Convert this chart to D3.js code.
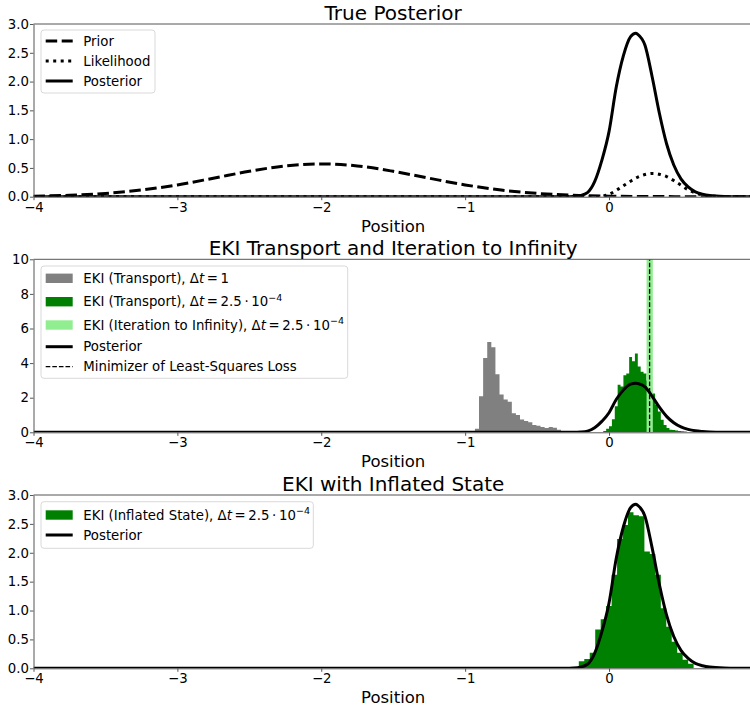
<!DOCTYPE html>
<html><head><meta charset="utf-8">
<script src="https://cdn.jsdelivr.net/npm/d3@7"></script>
<style>
body{margin:0;background:#fff}
svg{display:block;font-family:"DejaVu Sans",sans-serif}
</style>
</head><body><svg id="c" width="750" height="709"></svg>
<script>
// ---------------- data ----------------
const xTicks = [-4, -3, -2, -1, 0, 1];
const yTicksDensity = [0, 0.5, 1, 1.5, 2, 2.5, 3];
const yTicksEKI = [0, 2, 4, 6, 8, 10];

// Prior (dashed)
const priorX = [-4, -3.75, -3.5, -3.25, -3, -2.75, -2.5, -2.25, -2, -1.75, -1.5, -1.25, -1, -0.75, -0.5, -0.25, 0, 0.25, 0.5, 0.75, 1];
const priorY = [0.0096, 0.025, 0.057, 0.116, 0.205, 0.321, 0.441, 0.535, 0.570, 0.535, 0.441, 0.321, 0.205, 0.116, 0.057, 0.025, 0.0096, 0.0033, 0.001, 0.0003, 0.0001];

// Likelihood (dotted)
const likeX = [-4, -0.15, -0.1, -0.05, 0, 0.05, 0.1, 0.15, 0.2, 0.25, 0.3, 0.35, 0.4, 0.45, 0.5, 0.55, 0.6, 0.65, 0.7, 0.8, 0.9, 1];
const likeY = [0, 0, 0.002, 0.01, 0.04, 0.11, 0.19, 0.27, 0.34, 0.385, 0.405, 0.39, 0.35, 0.28, 0.2, 0.12, 0.065, 0.03, 0.012, 0.002, 0, 0];

// Posterior (solid)
const postX = [-4, -1, -0.5, -0.3, -0.25, -0.2, -0.15, -0.1, -0.05, 0, 0.05, 0.1, 0.15, 0.186, 0.2, 0.25, 0.3, 0.35, 0.4, 0.45, 0.5, 0.55, 0.6, 0.65, 0.7, 0.8, 0.9, 1];
const postY = [0, 0, 0, 0.001, 0.005, 0.02, 0.07, 0.26, 0.63, 1.13, 1.9, 2.45, 2.78, 2.84, 2.82, 2.63, 2.08, 1.45, 0.92, 0.55, 0.31, 0.17, 0.085, 0.045, 0.022, 0.005, 0.001, 0];

// EKI (Transport), dt = 1  (gray histogram)
const grayStart = -0.932, grayWidth = 0.0285;
const grayHeights = [0.2, 2.08, 4.3, 5.22, 4.92, 3.35, 2.18, 1.9, 1.76, 1.1, 1.0, 0.74, 0.66, 0.58, 0.42, 0.38, 0.3, 0.25, 0.3, 0.26, 0.15, 0.08];

// EKI (Transport), dt = 2.5e-4  (green histogram)
const greenStart = -0.04, greenWidth = 0.02;
const greenHeights = [0.08, 0.2, 0.35, 0.75, 1.5, 2.75, 2.65, 3.3, 3.4, 4.35, 4.1, 4.55, 3.8, 3.5, 3.4, 3.0, 2.6, 2.25, 1.6, 1.2, 0.72, 0.42, 0.25, 0.15, 0.13, 0.1, 0.08, 0.06, 0.04, 0.02];

// EKI (Iteration to Infinity), dt = 2.5e-4  (light green histogram)
const lightStart = 0.261, lightWidth = 0.0145;
const lightHeights = [40, 60, 30];

// Minimizer of least-squares loss
const minimizer = 0.282;

// EKI (Inflated State), dt = 2.5e-4
const inflStart = -0.21, inflWidth = 0.038;
const inflHeights = [0.12, 0.16, 0.27, 0.67, 0.85, 1.08, 1.62, 2.24, 2.48, 2.7, 2.65, 2.63, 2.02, 1.98, 1.62, 1.04, 0.72, 0.46, 0.27, 0.15, 0.08];

const titles = ["True Posterior", "EKI Transport and Iteration to Infinity", "EKI with Inflated State"];
const xLabel = "Position";

// ---------------- drawing ----------------
const svg = d3.select("#c");
const FONT = 13.3;
const x = d3.scaleLinear().domain([-4, 1]).range([33.5, 752.9]);

const panels = [
  {top: 24, bottom: 196.7, ymax: 3, ticks: yTicksDensity, fmt: d3.format(".1f")},
  {top: 259.3, bottom: 432.3, ymax: 10, ticks: yTicksEKI, fmt: d3.format("d")},
  {top: 495, bottom: 668.3, ymax: 3, ticks: yTicksDensity, fmt: d3.format(".1f")}
];

panels.forEach((p, i) => {
  p.y = d3.scaleLinear().domain([0, p.ymax]).range([p.bottom, p.top]);
  p.g = svg.append("g");
  const cid = "clip" + i;
  svg.append("clipPath").attr("id", cid).append("rect")
    .attr("x", x.range()[0]).attr("y", p.top)
    .attr("width", x.range()[1] - x.range()[0]).attr("height", p.bottom - p.top);
  p.plot = p.g.append("g").attr("clip-path", `url(#${cid})`);
});

const line = (ys) => d3.line().x(d => x(d[0])).y(d => ys(d[1])).curve(d3.curveMonotoneX);
const zip = (a, b) => a.map((v, i) => [v, b[i]]);

function hist(p, start, width, heights, color) {
  const pts = heights.map((h, i) => [start + i * width, h]);
  pts.push([start + heights.length * width, heights[heights.length - 1]]);
  const area = d3.area().x(d => x(d[0])).y0(p.bottom).y1(d => p.y(d[1])).curve(d3.curveStepAfter);
  p.plot.append("path").attr("d", area(pts)).attr("fill", color);
}

// Panel 1
{
  const p = panels[0];
  p.plot.append("path").attr("d", line(p.y)(zip(priorX, priorY)))
    .attr("fill", "none").attr("stroke", "#000").attr("stroke-width", 3).attr("stroke-dasharray", "11.5,4.5");
  p.plot.append("path").attr("d", line(p.y)(zip(likeX, likeY)))
    .attr("fill", "none").attr("stroke", "#000").attr("stroke-width", 3).attr("stroke-dasharray", "3,4.5");
  p.plot.append("path").attr("d", line(p.y)(zip(postX, postY)))
    .attr("fill", "none").attr("stroke", "#000").attr("stroke-width", 3);
}
// Panel 2
{
  const p = panels[1];
  hist(p, grayStart, grayWidth, grayHeights, "gray");
  hist(p, greenStart, greenWidth, greenHeights, "green");
  hist(p, lightStart, lightWidth, lightHeights, "lightgreen");
  p.plot.append("path").attr("d", line(p.y)(zip(postX, postY)))
    .attr("fill", "none").attr("stroke", "#000").attr("stroke-width", 3);
  p.plot.append("line").attr("x1", x(minimizer)).attr("x2", x(minimizer))
    .attr("y1", p.bottom).attr("y2", p.top)
    .attr("stroke", "#000").attr("stroke-width", 1.3).attr("stroke-dasharray", "4.6,2");
}
// Panel 3
{
  const p = panels[2];
  hist(p, inflStart, inflWidth, inflHeights, "green");
  p.plot.append("path").attr("d", line(p.y)(zip(postX, postY)))
    .attr("fill", "none").attr("stroke", "#000").attr("stroke-width", 3);
}

// axes, spines, titles
const SPINE = "#555";
panels.forEach((p, i) => {
  const gx = p.g.append("g").attr("transform", `translate(0,${p.bottom})`)
    .call(d3.axisBottom(x).tickValues(xTicks).tickFormat(d3.format("d")).tickSize(3.5).tickPadding(2).tickSizeOuter(0));
  const gy = p.g.append("g").attr("transform", `translate(${x.range()[0]},0)`)
    .call(d3.axisLeft(p.y).tickValues(p.ticks).tickFormat(p.fmt).tickSize(3.5).tickPadding(1).tickSizeOuter(0));
  [gx, gy].forEach(g => {
    g.selectAll("text").attr("font-size", FONT).attr("font-family", "DejaVu Sans").attr("fill", "#000");
    g.selectAll("line").attr("stroke", SPINE);
    g.select(".domain").attr("stroke", SPINE);
  });
  p.g.append("line").attr("x1", x.range()[0]).attr("x2", x.range()[1])
    .attr("y1", p.top).attr("y2", p.top).attr("stroke", SPINE);
  p.g.append("line").attr("x1", x.range()[1]).attr("x2", x.range()[1])
    .attr("y1", p.top).attr("y2", p.bottom).attr("stroke", SPINE);
  p.g.append("text").attr("x", (x.range()[0] + x.range()[1]) / 2).attr("y", p.top - 4.5)
    .attr("text-anchor", "middle").attr("font-size", 20).text(titles[i]);
  p.g.append("text").attr("x", (x.range()[0] + x.range()[1]) / 2).attr("y", p.bottom + 35)
    .attr("text-anchor", "middle").attr("font-size", 16.5).text(xLabel);
});

// legends
function richText(sel, parts) {
  let prevSup = false;
  parts.forEach(pt => {
    const t = sel.append("tspan").text(pt.t);
    if (pt.s === "it") t.attr("font-style", "italic");
    if (pt.s === "sup") { t.attr("font-size", 9.5).attr("dy", -5.5); prevSup = true; }
    else if (prevSup) { t.attr("dy", 5.5); prevSup = false; }
  });
}
const TS = "\u2009";
const dtEq = (val) => val === "1"
  ? [{t: "Δ"}, {t: "t", s: "it"}, {t: TS + "=" + TS + "1"}]
  : [{t: "Δ"}, {t: "t", s: "it"}, {t: TS + "=" + TS + "2.5" + TS + "·" + TS + "10"}, {t: "−4", s: "sup"}];

const legends = [
  {panel: 0, box: [41, 30, 155, 93], rows: [
    {y: 41, kind: "line", dash: "11.5,4.5", w: 3, parts: [{t: "Prior"}]},
    {y: 61, kind: "line", dash: "3,4.5", w: 3, parts: [{t: "Likelihood"}]},
    {y: 81, kind: "line", dash: null, w: 3, parts: [{t: "Posterior"}]}
  ]},
  {panel: 1, box: [41, 266, 347.7, 378.3], rows: [
    {y: 278.3, kind: "patch", color: "gray", parts: [{t: "EKI (Transport), "}].concat(dtEq("1"))},
    {y: 301.7, kind: "patch", color: "green", parts: [{t: "EKI (Transport), "}].concat(dtEq("2.5"))},
    {y: 325, kind: "patch", color: "lightgreen", parts: [{t: "EKI (Iteration to Infinity), "}].concat(dtEq("2.5"))},
    {y: 346.7, kind: "line", dash: null, w: 3, parts: [{t: "Posterior"}]},
    {y: 366.7, kind: "line", dash: "4.6,2", w: 1.3, parts: [{t: "Minimizer of Least-Squares Loss"}]}
  ]},
  {panel: 2, box: [41, 501.7, 313.3, 548.3], rows: [
    {y: 515, kind: "patch", color: "green", parts: [{t: "EKI (Inflated State), "}].concat(dtEq("2.5"))},
    {y: 535, kind: "line", dash: null, w: 3, parts: [{t: "Posterior"}]}
  ]}
];

legends.forEach(L => {
  const g = svg.append("g");
  const [x0, y0, x1, y1] = L.box;
  g.append("rect").attr("x", x0).attr("y", y0).attr("width", x1 - x0).attr("height", y1 - y0)
    .attr("rx", 3).attr("fill", "#fff").attr("fill-opacity", 0.8).attr("stroke", "#d9d9d9").attr("stroke-width", 1);
  L.rows.forEach(r => {
    if (r.kind === "patch") {
      g.append("rect").attr("x", 45.7).attr("y", r.y - 4.7).attr("width", 27).attr("height", 9.4).attr("fill", r.color);
    } else {
      const l = g.append("line").attr("x1", 45.7).attr("x2", 72.7).attr("y1", r.y).attr("y2", r.y)
        .attr("stroke", "#000").attr("stroke-width", r.w);
      if (r.dash) l.attr("stroke-dasharray", r.dash);
    }
    const t = g.append("text").attr("x", 83.3).attr("y", r.y + 4.7).attr("font-size", FONT);
    richText(t, r.parts);
  });
});
</script></body></html>
